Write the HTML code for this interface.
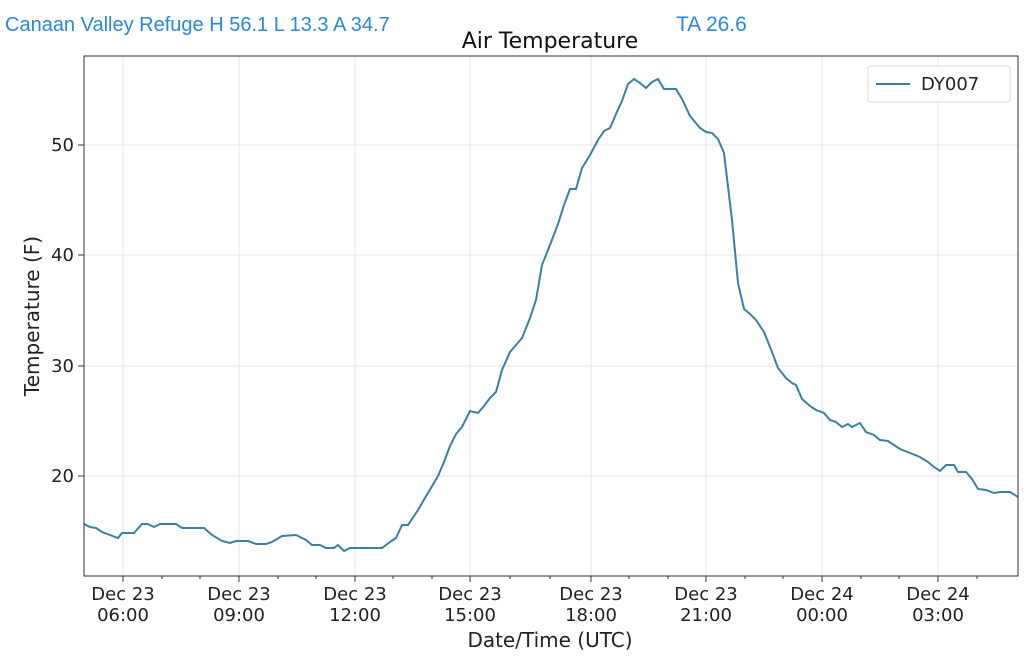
<!DOCTYPE html>
<html><head><meta charset="utf-8"><style>
body{margin:0;background:#fff;width:1024px;height:660px;overflow:hidden}
svg{font-family:"DejaVu Sans","Liberation Sans",sans-serif}
</style></head><body>
<svg width="1024" height="660" xmlns="http://www.w3.org/2000/svg">
<text x="5" y="31" font-family="Liberation Sans, sans-serif" font-size="20" fill="#2a86e0">Canaan Valley Refuge H 56.1 L 13.3 A 34.7</text>
<text x="676" y="31" font-family="Liberation Sans, sans-serif" font-size="21" fill="#2a86e0">TA 26.6</text>
<text x="550" y="48" text-anchor="middle" font-size="22" fill="#111">Air Temperature</text>
<g stroke="#e6e6e6" stroke-width="1">
<line x1="123" y1="56" x2="123" y2="576"/><line x1="239" y1="56" x2="239" y2="576"/><line x1="355" y1="56" x2="355" y2="576"/><line x1="470" y1="56" x2="470" y2="576"/><line x1="591" y1="56" x2="591" y2="576"/><line x1="706" y1="56" x2="706" y2="576"/><line x1="822" y1="56" x2="822" y2="576"/><line x1="938" y1="56" x2="938" y2="576"/>
<line x1="84" y1="145" x2="1018" y2="145"/><line x1="84" y1="255" x2="1018" y2="255"/><line x1="84" y1="366" x2="1018" y2="366"/><line x1="84" y1="476" x2="1018" y2="476"/>
</g>
<polyline fill="none" stroke="#3a80a3" stroke-width="2" points="84,524 90,527 96,528 102,532 110,535 118,538 122,533 134,533 142,524 148,524 154,527 160,524 176,524 182,528 204,528 212,535 222,541 230,543 236,541 248,541 256,544 266,544 272,542 282,536 296,535 306,540 312,545 320,545 326,548 334,548 338,545 344,551 350,548 358,548 382,548 390,542 396,538 402,525 408,525 418,510 428,493 438,476 444,462 450,446 456,434 462,427 470,411 478,413 484,406 490,398 496,392 502,370 510,352 516,345 522,338 530,318 536,300 542,265 550,245 558,224 564,205 570,189 576,189 582,168 590,155 598,140 604,131 610,128 616,114 622,101 628,84 634,79 640,83 646,88 652,82 658,79 664,89 676,89 682,99 690,116 700,128 706,132 712,133 718,139 724,153 732,220 738,283 744,309 750,314 756,320 764,332 772,352 778,368 786,378 792,383 796,385 802,399 810,406 816,410 824,413 830,420 836,422 842,427 848,424 852,427 860,423 866,432 874,435 880,440 888,441 894,445 900,449 910,453 920,457 928,462 934,467 940,471 946,465 954,465 958,472 966,472 972,479 978,489 986,490 994,493 1000,492 1010,492 1018,497"/>
<rect x="84" y="56" width="934" height="520" fill="none" stroke="#333" stroke-width="1"/>
<g stroke="#333" stroke-width="1">
<line x1="123" y1="576" x2="123" y2="582"/><line x1="239" y1="576" x2="239" y2="582"/><line x1="355" y1="576" x2="355" y2="582"/><line x1="470" y1="576" x2="470" y2="582"/><line x1="591" y1="576" x2="591" y2="582"/><line x1="706" y1="576" x2="706" y2="582"/><line x1="822" y1="576" x2="822" y2="582"/><line x1="938" y1="576" x2="938" y2="582"/>
<line x1="162" y1="576" x2="162" y2="579"/><line x1="200" y1="576" x2="200" y2="579"/><line x1="278" y1="576" x2="278" y2="579"/><line x1="316" y1="576" x2="316" y2="579"/><line x1="393" y1="576" x2="393" y2="579"/><line x1="432" y1="576" x2="432" y2="579"/><line x1="510" y1="576" x2="510" y2="579"/><line x1="550" y1="576" x2="550" y2="579"/><line x1="629" y1="576" x2="629" y2="579"/><line x1="668" y1="576" x2="668" y2="579"/><line x1="745" y1="576" x2="745" y2="579"/><line x1="783" y1="576" x2="783" y2="579"/><line x1="861" y1="576" x2="861" y2="579"/><line x1="899" y1="576" x2="899" y2="579"/><line x1="977" y1="576" x2="977" y2="579"/>
<line x1="78" y1="145" x2="84" y2="145"/><line x1="78" y1="255" x2="84" y2="255"/><line x1="78" y1="366" x2="84" y2="366"/><line x1="78" y1="476" x2="84" y2="476"/>
</g>
<g font-size="18" fill="#222" text-anchor="end">
<text x="74" y="151">50</text><text x="74" y="261">40</text><text x="74" y="372">30</text><text x="74" y="482">20</text>
</g>
<g font-size="18" fill="#222" text-anchor="middle">
<text x="123" y="600">Dec 23</text><text x="123" y="621">06:00</text>
<text x="239" y="600">Dec 23</text><text x="239" y="621">09:00</text>
<text x="355" y="600">Dec 23</text><text x="355" y="621">12:00</text>
<text x="470" y="600">Dec 23</text><text x="470" y="621">15:00</text>
<text x="591" y="600">Dec 23</text><text x="591" y="621">18:00</text>
<text x="706" y="600">Dec 23</text><text x="706" y="621">21:00</text>
<text x="822" y="600">Dec 24</text><text x="822" y="621">00:00</text>
<text x="938" y="600">Dec 24</text><text x="938" y="621">03:00</text>
</g>
<text x="550" y="647" text-anchor="middle" font-size="20" fill="#222">Date/Time (UTC)</text>
<text transform="translate(39,316) rotate(-90)" text-anchor="middle" font-size="20" fill="#222">Temperature (F)</text>
<rect x="868" y="66" width="142" height="36" rx="3" fill="#fff" stroke="#ddd"/>
<line x1="876" y1="84" x2="910" y2="84" stroke="#3a80a3" stroke-width="2"/>
<text x="921" y="90" font-size="18" fill="#222">DY007</text>
</svg>
</body></html>
